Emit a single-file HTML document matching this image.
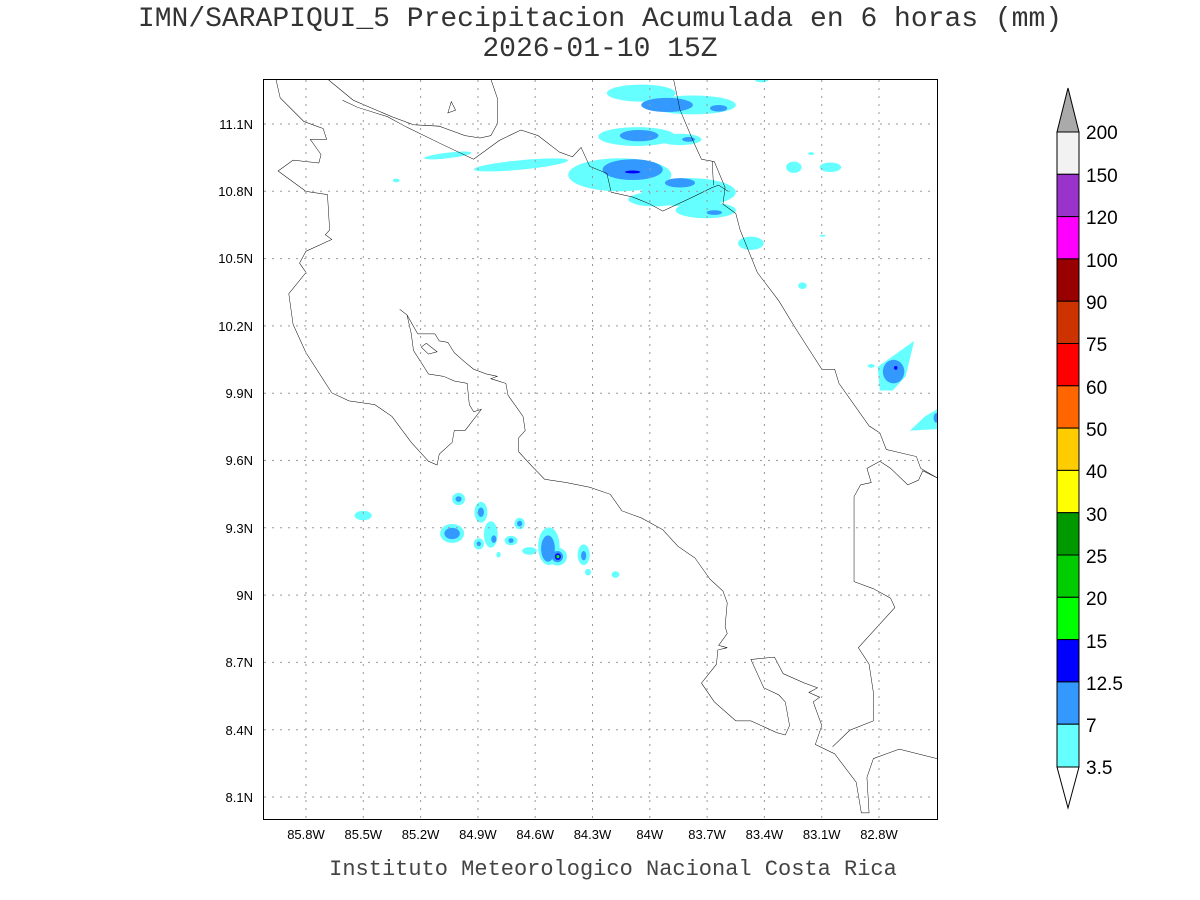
<!DOCTYPE html>
<html><head><meta charset="utf-8"><style>
body{margin:0;background:#fff;width:1200px;height:900px;overflow:hidden;position:relative;font-family:"Liberation Sans",sans-serif;}
.t{position:absolute;left:0;width:1200px;text-align:center;color:#333;font-size:28px;font-family:"Liberation Mono",monospace;line-height:30px}
</style></head><body>
<div class="t" style="top:5px">IMN/SARAPIQUI_5 Precipitacion Acumulada en 6 horas (mm)</div>
<div class="t" style="top:35px">2026-01-10 15Z</div>
<div class="t" style="top:855px;font-size:22px;color:#444;left:13px">Instituto Meteorologico Nacional Costa Rica</div>

<svg style="position:absolute;left:263px;top:79px" width="674" height="740" viewBox="0 0 1568 1568" preserveAspectRatio="none">
<g fill="#66ffff">
<ellipse cx="880" cy="30" rx="80" ry="18"/><ellipse cx="1000" cy="55" rx="100" ry="20"/><ellipse cx="1160" cy="3" rx="15" ry="4"/>
<ellipse cx="870" cy="122" rx="90" ry="20"/><ellipse cx="970" cy="128" rx="50" ry="12"/>
<ellipse cx="430" cy="162" rx="55" ry="6" transform="rotate(-6 430 162)"/><ellipse cx="600" cy="182" rx="110" ry="10" transform="rotate(-5 600 182)"/>
<ellipse cx="830" cy="203" rx="120" ry="35"/><ellipse cx="990" cy="240" rx="110" ry="30"/><ellipse cx="1030" cy="278" rx="70" ry="17"/><ellipse cx="910" cy="255" rx="60" ry="15"/>
<ellipse cx="310" cy="215" rx="8" ry="4"/><ellipse cx="1235" cy="187" rx="18" ry="12"/><ellipse cx="1320" cy="187" rx="25" ry="10"/><ellipse cx="1275" cy="158" rx="7" ry="3"/>
<ellipse cx="1135" cy="348" rx="30" ry="14"/><ellipse cx="1255" cy="438" rx="10" ry="7"/><ellipse cx="1302" cy="332" rx="7" ry="2"/>
<polygon points="1430,610 1515,555 1495,630 1465,660 1435,660"/><ellipse cx="1415" cy="608" rx="8" ry="4"/>
<polygon points="1505,745 1540,715 1568,700 1568,742"/>
<ellipse cx="455" cy="890" rx="15" ry="13"/><ellipse cx="233" cy="925" rx="20" ry="10"/><ellipse cx="440" cy="963" rx="28" ry="20"/>
<ellipse cx="507" cy="918" rx="15" ry="22"/><ellipse cx="530" cy="965" rx="16" ry="28"/><ellipse cx="502" cy="985" rx="12" ry="12"/>
<ellipse cx="597" cy="942" rx="12" ry="12"/><ellipse cx="577" cy="978" rx="15" ry="10"/><ellipse cx="620" cy="1000" rx="17" ry="8"/><ellipse cx="548" cy="1008" rx="5" ry="6"/>
<ellipse cx="665" cy="990" rx="25" ry="40"/><ellipse cx="685" cy="1012" rx="22" ry="19"/>
<ellipse cx="746" cy="1008" rx="14" ry="22"/><ellipse cx="756" cy="1045" rx="7" ry="7"/><ellipse cx="820" cy="1050" rx="9" ry="7"/>
</g>
<g fill="#3399ff">
<ellipse cx="940" cy="55" rx="60" ry="15"/><ellipse cx="1060" cy="62" rx="20" ry="7"/>
<ellipse cx="875" cy="120" rx="45" ry="12"/><ellipse cx="990" cy="128" rx="15" ry="5"/>
<ellipse cx="860" cy="192" rx="70" ry="22"/><ellipse cx="970" cy="220" rx="35" ry="10"/><ellipse cx="1050" cy="283" rx="18" ry="5"/>
<ellipse cx="1467" cy="620" rx="25" ry="25"/><ellipse cx="1566" cy="718" rx="6" ry="10"/>
<ellipse cx="455" cy="890" rx="7" ry="6"/><ellipse cx="440" cy="963" rx="18" ry="12"/><ellipse cx="507" cy="918" rx="7" ry="10"/><ellipse cx="537" cy="975" rx="6" ry="8"/>
<ellipse cx="502" cy="985" rx="5" ry="5"/><ellipse cx="597" cy="942" rx="6" ry="6"/><ellipse cx="577" cy="978" rx="6" ry="5"/>
<ellipse cx="663" cy="995" rx="16" ry="28"/><ellipse cx="685" cy="1012" rx="13" ry="12"/><ellipse cx="746" cy="1010" rx="6" ry="10"/>
</g>
<g fill="#0000ff"><ellipse cx="860" cy="197" rx="18" ry="3"/><ellipse cx="1472" cy="612" rx="4" ry="4"/><ellipse cx="686" cy="1012" rx="7" ry="7"/></g>
<ellipse cx="686" cy="1012" rx="3.5" ry="3.5" fill="#00ff00"/>
<g fill="none" stroke="#000" vector-effect="non-scaling-stroke" style="stroke-width:1.1px">
<polyline points="30,0 40,40 95,90 140,105 148,128 110,128 135,160 130,178 70,172 35,195 100,238 150,245 155,320 145,330 160,340 100,365 85,390 100,410 60,455 70,520 100,580 160,665 200,682 260,690 300,715 345,770 385,810 405,818 410,795 440,770 445,745 470,745 508,700 490,705 480,690 475,645 445,640 420,630 385,625 350,575 345,540 335,500 318,488 335,500 360,540 400,540 410,555 430,558 445,580 470,600 490,615 520,625 545,630 530,635 565,645 570,670 605,715 610,745 595,760 595,790 625,820 655,848 705,855 760,865 808,880 835,915 880,930 930,955 965,990 1005,1015 1040,1060 1070,1085 1080,1110 1075,1160 1080,1175 1060,1200 1080,1205 1058,1210 1055,1240 1020,1280 1050,1320 1100,1360 1135,1360 1195,1385 1215,1390 1225,1370 1215,1320 1200,1305 1165,1290 1135,1230 1190,1225 1210,1260 1260,1280 1290,1290 1270,1300 1295,1310 1280,1320 1300,1370 1285,1410 1330,1430 1380,1490 1392,1555 1410,1555 1405,1480 1420,1440 1480,1420 1568,1440"/>
<polyline points="1325,1415 1365,1380 1420,1360 1420,1300 1410,1240 1385,1205 1470,1120 1460,1100 1420,1080 1375,1065 1375,885 1390,860 1415,855 1405,825 1435,810 1460,825 1500,860 1525,850 1535,830 1568,845"/>
<polyline points="1568,845 1530,825 1520,800 1450,785 1435,750 1410,735 1340,645 1330,615 1300,615 1240,530 1200,470 1150,410 1110,320 1100,285 1070,265 1075,230 1050,175 1020,170 1000,130 970,65 955,0"/>
<polyline points="1082,238 1060,225 1045,230 1000,250 930,280 900,265 860,250 810,240 800,200 760,185 740,145 720,165 690,155 640,120 600,108 550,130 490,170 420,140 330,100 290,80 220,60 185,45"/>
<polyline points="150,0 210,45 300,80 350,97 410,100 470,120 505,125 530,120 545,95 545,40 530,0"/>
<polyline points="1045,175 1048,225"/>
<polygon points="430,72 438,48 448,66"/>
<polygon points="368,568 380,560 405,578 385,583"/>
</g>
</svg>

<svg style="position:absolute;left:0;top:0" width="1200" height="900">
<g stroke="#999" stroke-width="1" stroke-dasharray="2,6">
<line x1="306" y1="80" x2="306" y2="818"/><line x1="363.3" y1="80" x2="363.3" y2="818"/><line x1="420.6" y1="80" x2="420.6" y2="818"/><line x1="477.9" y1="80" x2="477.9" y2="818"/><line x1="535.2" y1="80" x2="535.2" y2="818"/><line x1="592.5" y1="80" x2="592.5" y2="818"/><line x1="649.8" y1="80" x2="649.8" y2="818"/><line x1="707.1" y1="80" x2="707.1" y2="818"/><line x1="764.4" y1="80" x2="764.4" y2="818"/><line x1="821.7" y1="80" x2="821.7" y2="818"/><line x1="879" y1="80" x2="879" y2="818"/>
<line x1="264" y1="124" x2="936" y2="124"/><line x1="264" y1="191.3" x2="936" y2="191.3"/><line x1="264" y1="258.6" x2="936" y2="258.6"/><line x1="264" y1="325.9" x2="936" y2="325.9"/><line x1="264" y1="393.2" x2="936" y2="393.2"/><line x1="264" y1="460.5" x2="936" y2="460.5"/><line x1="264" y1="527.8" x2="936" y2="527.8"/><line x1="264" y1="595.1" x2="936" y2="595.1"/><line x1="264" y1="662.4" x2="936" y2="662.4"/><line x1="264" y1="729.7" x2="936" y2="729.7"/><line x1="264" y1="797" x2="936" y2="797"/>
</g>
<rect x="263.5" y="79.5" width="674" height="740" fill="none" stroke="#000" stroke-width="1"/>
<g font-family="Liberation Sans, sans-serif" font-size="13" fill="#000" text-anchor="middle">
<text x="306" y="839">85.8W</text><text x="363.3" y="839">85.5W</text><text x="420.6" y="839">85.2W</text><text x="477.9" y="839">84.9W</text><text x="535.2" y="839">84.6W</text><text x="592.5" y="839">84.3W</text><text x="649.8" y="839">84W</text><text x="707.1" y="839">83.7W</text><text x="764.4" y="839">83.4W</text><text x="821.7" y="839">83.1W</text><text x="879" y="839">82.8W</text>
</g>
<g font-family="Liberation Sans, sans-serif" font-size="13" fill="#000" text-anchor="end">
<text x="253" y="129">11.1N</text><text x="253" y="196">10.8N</text><text x="253" y="263">10.5N</text><text x="253" y="331">10.2N</text><text x="253" y="398">9.9N</text><text x="253" y="465">9.6N</text><text x="253" y="533">9.3N</text><text x="253" y="600">9N</text><text x="253" y="667">8.7N</text><text x="253" y="735">8.4N</text><text x="253" y="802">8.1N</text>
</g>
<g stroke="#000" stroke-width="1">
<polygon points="1057,132 1068,88 1079,132" fill="#aaaaaa"/>
<rect x="1057" y="132" width="22" height="42.3" fill="#f2f2f2"/>
<rect x="1057" y="174.3" width="22" height="42.3" fill="#9933cc"/>
<rect x="1057" y="216.6" width="22" height="42.3" fill="#ff00ff"/>
<rect x="1057" y="258.9" width="22" height="42.3" fill="#990000"/>
<rect x="1057" y="301.2" width="22" height="42.3" fill="#cc3300"/>
<rect x="1057" y="343.5" width="22" height="42.3" fill="#ff0000"/>
<rect x="1057" y="385.8" width="22" height="42.3" fill="#ff6600"/>
<rect x="1057" y="428.1" width="22" height="42.3" fill="#ffcc00"/>
<rect x="1057" y="470.4" width="22" height="42.3" fill="#ffff00"/>
<rect x="1057" y="512.7" width="22" height="42.3" fill="#009900"/>
<rect x="1057" y="555" width="22" height="42.3" fill="#00cc00"/>
<rect x="1057" y="597.3" width="22" height="42.3" fill="#00ff00"/>
<rect x="1057" y="639.6" width="22" height="42.3" fill="#0000ff"/>
<rect x="1057" y="681.9" width="22" height="42.3" fill="#3399ff"/>
<rect x="1057" y="724.2" width="22" height="42.8" fill="#66ffff"/>
<polygon points="1057,767 1068,808 1079,767" fill="#fff"/>
</g>
<g font-family="Liberation Sans, sans-serif" font-size="19" fill="#000">
<text x="1086" y="139">200</text><text x="1086" y="182">150</text><text x="1086" y="224">120</text><text x="1086" y="267">100</text><text x="1086" y="309">90</text><text x="1086" y="351">75</text><text x="1086" y="394">60</text><text x="1086" y="436">50</text><text x="1086" y="478">40</text><text x="1086" y="521">30</text><text x="1086" y="563">25</text><text x="1086" y="605">20</text><text x="1086" y="648">15</text><text x="1086" y="690">12.5</text><text x="1086" y="732">7</text><text x="1086" y="774">3.5</text>
</g>
</svg>
</body></html>
